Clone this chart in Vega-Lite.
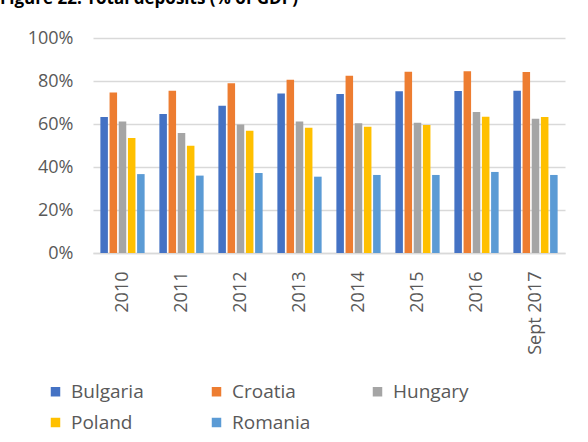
{
  "$schema": "https://vega.github.io/schema/vega-lite/v6.json",
  "autosize": {"type": "none"},
  "padding": {"left": 93, "top": 38, "right": 23, "bottom": 189},
  "width": 472,
  "height": 215,
  "title": {
    "text": "Figure 22. Total deposits (% of GDP)",
    "anchor": "start",
    "frame": "group",
    "dx": -93,
    "offset": 21,
    "font": "Open Sans",
    "fontSize": 17,
    "fontWeight": "bold",
    "color": "#000000"
  },
  "data": {
    "values": [
      {"year": "2010", "country": "Bulgaria", "value": 63.3},
      {"year": "2010", "country": "Croatia", "value": 74.7},
      {"year": "2010", "country": "Hungary", "value": 61.2},
      {"year": "2010", "country": "Poland", "value": 53.5},
      {"year": "2010", "country": "Romania", "value": 36.7},
      {"year": "2011", "country": "Bulgaria", "value": 64.6},
      {"year": "2011", "country": "Croatia", "value": 75.5},
      {"year": "2011", "country": "Hungary", "value": 55.8},
      {"year": "2011", "country": "Poland", "value": 49.9},
      {"year": "2011", "country": "Romania", "value": 36.0},
      {"year": "2012", "country": "Bulgaria", "value": 68.5},
      {"year": "2012", "country": "Croatia", "value": 78.9},
      {"year": "2012", "country": "Hungary", "value": 59.8},
      {"year": "2012", "country": "Poland", "value": 56.9},
      {"year": "2012", "country": "Romania", "value": 37.2},
      {"year": "2013", "country": "Bulgaria", "value": 74.2},
      {"year": "2013", "country": "Croatia", "value": 80.6},
      {"year": "2013", "country": "Hungary", "value": 61.2},
      {"year": "2013", "country": "Poland", "value": 58.3},
      {"year": "2013", "country": "Romania", "value": 35.5},
      {"year": "2014", "country": "Bulgaria", "value": 73.9},
      {"year": "2014", "country": "Croatia", "value": 82.5},
      {"year": "2014", "country": "Hungary", "value": 60.3},
      {"year": "2014", "country": "Poland", "value": 58.7},
      {"year": "2014", "country": "Romania", "value": 36.3},
      {"year": "2015", "country": "Bulgaria", "value": 75.2},
      {"year": "2015", "country": "Croatia", "value": 84.3},
      {"year": "2015", "country": "Hungary", "value": 60.6},
      {"year": "2015", "country": "Poland", "value": 59.5},
      {"year": "2015", "country": "Romania", "value": 36.3},
      {"year": "2016", "country": "Bulgaria", "value": 75.3},
      {"year": "2016", "country": "Croatia", "value": 84.5},
      {"year": "2016", "country": "Hungary", "value": 65.6},
      {"year": "2016", "country": "Poland", "value": 63.4},
      {"year": "2016", "country": "Romania", "value": 37.7},
      {"year": "Sept 2017", "country": "Bulgaria", "value": 75.5},
      {"year": "Sept 2017", "country": "Croatia", "value": 84.2},
      {"year": "Sept 2017", "country": "Hungary", "value": 62.5},
      {"year": "Sept 2017", "country": "Poland", "value": 63.2},
      {"year": "Sept 2017", "country": "Romania", "value": 36.3}
    ]
  },
  "mark": {"type": "bar"},
  "encoding": {
    "x": {
      "field": "year",
      "type": "nominal",
      "sort": null,
      "scale": {"paddingInner": 0.25, "paddingOuter": 0.125},
      "axis": {
        "title": null,
        "labelAngle": -90,
        "labelAlign": "right",
        "labelBaseline": "middle",
        "labelPadding": 18,
        "ticks": false,
        "domainColor": "#d9d9d9",
        "domainWidth": 1.5,
        "labelFont": "Open Sans",
        "labelFontSize": 18,
        "labelColor": "#595959"
      }
    },
    "xOffset": {
      "field": "country",
      "type": "nominal",
      "scale": {"paddingInner": 0.18}
    },
    "y": {
      "field": "value",
      "type": "quantitative",
      "scale": {"domain": [0, 100]},
      "axis": {
        "title": null,
        "values": [0, 20, 40, 60, 80, 100],
        "labelExpr": "datum.value + '%'",
        "ticks": false,
        "domain": false,
        "gridColor": "#d9d9d9",
        "gridWidth": 1.5,
        "labelPadding": 20,
        "labelFont": "Open Sans",
        "labelFontSize": 18,
        "labelColor": "#595959"
      }
    },
    "color": {
      "field": "country",
      "type": "nominal",
      "scale": {
        "domain": ["Bulgaria", "Croatia", "Hungary", "Poland", "Romania"],
        "range": ["#4472C4", "#ED7D31", "#A5A5A5", "#FFC000", "#5B9BD5"]
      },
      "legend": {
        "title": null,
        "orient": "none",
        "legendX": -47,
        "legendY": 344,
        "direction": "horizontal",
        "columns": 3,
        "gridAlign": "all",
        "columnPadding": 57,
        "rowPadding": 11,
        "symbolType": "square",
        "symbolSize": 90,
        "symbolStrokeWidth": 0,
        "labelOffset": 6,
        "labelFont": "Open Sans",
        "labelFontSize": 19,
        "labelColor": "#595959",
        "padding": 0
      }
    }
  },
  "config": {"view": {"stroke": null}}
}
